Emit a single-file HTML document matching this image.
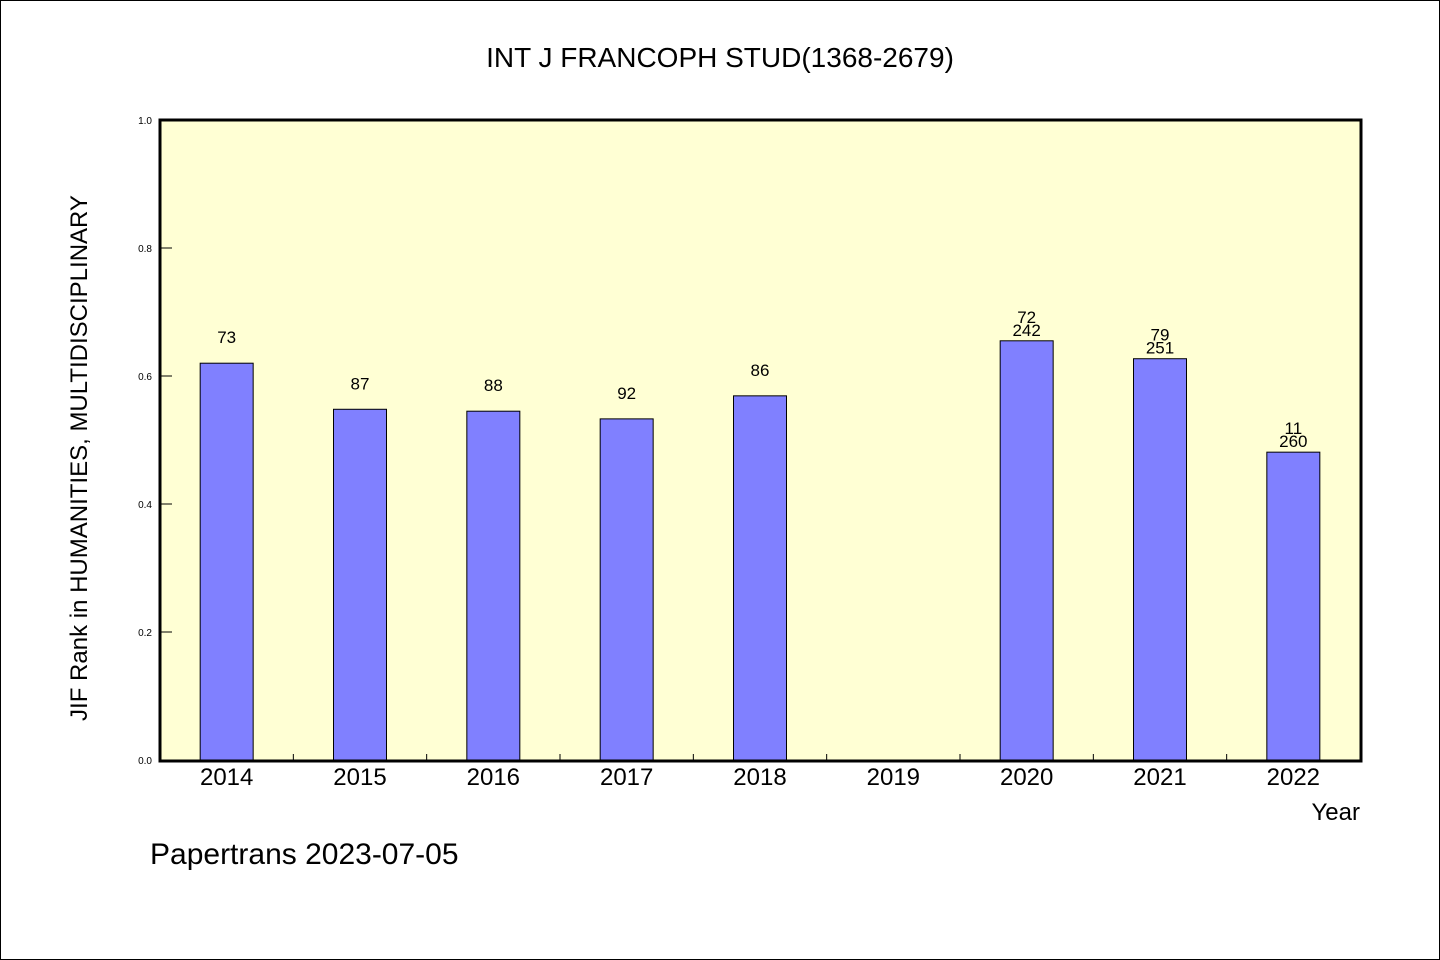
<!DOCTYPE html>
<html><head><meta charset="utf-8"><style>
html,body{margin:0;padding:0;background:#fff}
svg{display:block;font-family:"WenQuanYi Zen Hei","Liberation Sans",sans-serif}
</style></head><body>
<svg id="chart" width="1440" height="960" xmlns="http://www.w3.org/2000/svg">
<rect x="0.5" y="0.5" width="1439" height="959" fill="#fff" stroke="#000"/>
<text x="720" y="67" text-anchor="middle" font-size="28">INT J FRANCOPH STUD(1368-2679)</text>
<rect x="160" y="120" width="1201" height="641" fill="#ffffd4"/>
<g id="marks"></g>
<rect x="160" y="120" width="1201" height="641" fill="none" stroke="#000" stroke-width="3"/>
<text transform="translate(87,458) rotate(-90)" text-anchor="middle" font-size="24">JIF Rank in HUMANITIES, MULTIDISCIPLINARY</text>
<text x="1360" y="820" text-anchor="end" font-size="24">Year</text>
<text x="150" y="864" font-size="30">Papertrans 2023-07-05</text>
</svg>
<script>
const categories=["2014","2015","2016","2017","2018","2019","2020","2021","2022"];
const values=[0.620,0.548,0.545,0.533,0.569,null,0.655,0.627,0.481];
const rankLabels=["73","87","88","92","86","","72","79","11"];
const totalLabels=["","","","","","","242","251","260"];
const yTicks=[0,0.2,0.4,0.6,0.8,1.0];
const X0=160,X1=1360,Y0=760,Y1=120;
const slot=(X1-X0)/categories.length;
const xC=i=>X0+slot*(i+0.5);
const y=v=>Y0-(Y0-Y1)*v;
const g=document.getElementById('marks');
const NS="http://www.w3.org/2000/svg";
function mk(t,a){const e=document.createElementNS(NS,t);for(const k in a)e.setAttribute(k,a[k]);g.appendChild(e);return e;}
yTicks.forEach(v=>{
 const l=mk('line',{x1:160,x2:172,y1:y(v),y2:y(v),stroke:'#000','stroke-width':1});
 
 
 const t=mk('text',{x:152,y:y(v)+4,'text-anchor':'end','font-size':10});
 t.textContent=v.toFixed(1);
 
 
});
categories.forEach((c,i)=>{
 if(i>0){const l=mk('line',{x1:X0+slot*i,x2:X0+slot*i,y1:Y0,y2:Y0-6,stroke:'#000','stroke-width':1});
 
 }
 const t=mk('text',{x:xC(i),y:785,'text-anchor':'middle','font-size':24});
 t.textContent=c;
 
 
 const v=values[i];
 if(v==null)return;
 const b=mk('rect',{x:xC(i)-26.5,y:y(v),width:53,height:Y0-y(v),fill:'#8080ff',stroke:'#000','stroke-width':1});
 
 
 if(totalLabels[i]){
  const t2=mk('text',{x:xC(i),y:y(v)-5,'text-anchor':'middle','font-size':17});
  t2.textContent=totalLabels[i];
  
  
  const t1=mk('text',{x:xC(i),y:y(v)-18,'text-anchor':'middle','font-size':17});
  t1.textContent=rankLabels[i];
  
  
 } else {
  const t1=mk('text',{x:xC(i),y:y(v)-20,'text-anchor':'middle','font-size':17});
  t1.textContent=rankLabels[i];
  
  
 }
});
</script>
</body></html>
